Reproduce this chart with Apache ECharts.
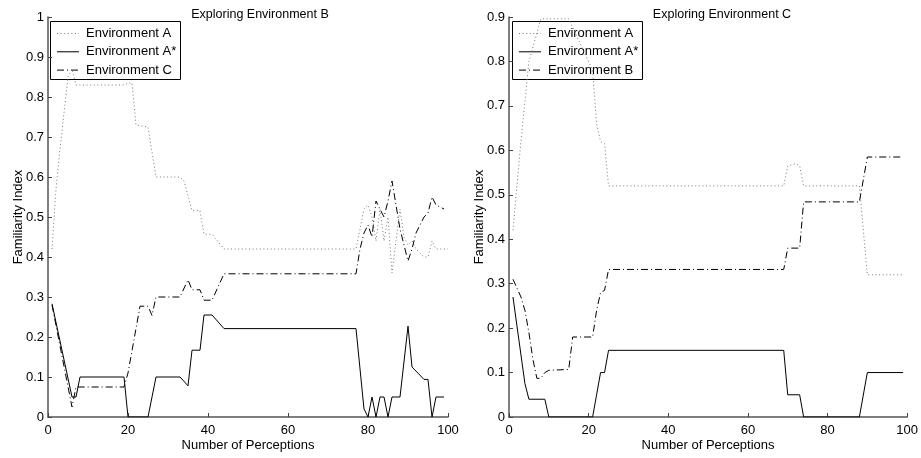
<!DOCTYPE html>
<html>
<head>
<meta charset="utf-8">
<style>
  html, body { margin: 0; padding: 0; background: #ffffff; }
  #chart { width: 921px; height: 458px; }
</style>
<script src="https://cdn.jsdelivr.net/npm/echarts@6.0.0/dist/echarts.min.js"></script>
</head>
<body>
<div id="chart"></div>
<script>
// Panel titles and series names
const panelTitles = ['Exploring Environment B', 'Exploring Environment C'];
const leftNames = ['Environment A', 'Environment A*', 'Environment C'];
const rightNames = ['Environment A', 'Environment A*', 'Environment B'];

// Familiarity index vs number of perceptions, [perception, index] vertices
// Panel 1: exploring environment B
const leftEnvA = [
  [1, 0.42], [2, 0.57], [3, 0.67], [4, 0.76], [5, 0.85], [6, 0.87], [7, 0.83],
  [19, 0.83], [20, 0.835], [21, 0.835], [22, 0.73], [25, 0.725], [27, 0.60],
  [33, 0.60], [34, 0.59], [36, 0.516], [38, 0.516], [39, 0.457], [41, 0.457],
  [44, 0.42], [77, 0.42], [78, 0.47], [79, 0.52], [80, 0.53], [81, 0.50],
  [82, 0.44], [83, 0.52], [84, 0.44], [85, 0.50], [86, 0.36], [87, 0.44],
  [88, 0.52], [89, 0.45], [90, 0.43], [91, 0.44], [92, 0.42], [93, 0.41],
  [94, 0.40], [95, 0.40], [96, 0.44], [97, 0.42], [100, 0.42]
];
const leftEnvAStar = [
  [1, 0.283], [6, 0.05], [7, 0.05], [8, 0.10], [19, 0.10], [20, 0], [25, 0],
  [27, 0.10], [33, 0.10], [35, 0.078], [36, 0.167], [38, 0.167], [39, 0.255],
  [41, 0.255], [44, 0.221], [77, 0.221], [79, 0.02], [80, 0], [81, 0.05],
  [82, 0], [83, 0.05], [84, 0.05], [85, 0], [86, 0.05], [88, 0.05],
  [90, 0.227], [91, 0.125], [94, 0.094], [95, 0.094], [96, 0], [97, 0.05],
  [99, 0.05]
];
const leftEnvC = [
  [1, 0.28], [6, 0.025], [7, 0.075], [19, 0.075], [20, 0.11], [23, 0.277],
  [25, 0.277], [26, 0.254], [27, 0.30], [33, 0.30], [35, 0.343], [36, 0.318],
  [38, 0.318], [39, 0.292], [41, 0.292], [44, 0.358], [77, 0.358], [78, 0.42],
  [79, 0.46], [80, 0.48], [81, 0.45], [82, 0.54], [83, 0.52], [84, 0.50],
  [85, 0.54], [86, 0.59], [87, 0.53], [88, 0.47], [89, 0.43], [90, 0.39],
  [91, 0.42], [92, 0.46], [93, 0.48], [94, 0.50], [95, 0.51], [96, 0.55],
  [97, 0.53], [99, 0.52]
];

// Panel 2: exploring environment C
const rightEnvA = [
  [1, 0.42], [3, 0.62], [5, 0.80], [8, 0.896], [15, 0.896], [21, 0.78],
  [22, 0.66], [23, 0.62], [24, 0.615], [25, 0.52], [69, 0.52], [70, 0.565],
  [72, 0.57], [73, 0.565], [74, 0.52], [88, 0.52], [90, 0.32], [99, 0.32]
];
const rightEnvAStar = [
  [1, 0.27], [4, 0.075], [5, 0.04], [9, 0.04], [10, 0], [21, 0], [23, 0.10],
  [24, 0.10], [25, 0.15], [69, 0.15], [70, 0.05], [73, 0.05], [74, 0],
  [88, 0], [90, 0.10], [99, 0.10]
];
const rightEnvB = [
  [1, 0.31], [2, 0.29], [3, 0.27], [4, 0.24], [5, 0.19], [6, 0.13],
  [7, 0.087], [8, 0.087], [9, 0.10], [10, 0.105], [15, 0.107], [16, 0.18],
  [21, 0.18], [22, 0.24], [23, 0.28], [24, 0.285], [25, 0.332], [69, 0.332],
  [70, 0.38], [73, 0.38], [74, 0.484], [88, 0.484], [90, 0.585], [99, 0.585]
];

// Axis ranges
const xRange = { min: 0, max: 100, step: 20 };
const leftYRange = { min: 0, max: 1, step: 0.1 };
const rightYRange = { min: 0, max: 0.9, step: 0.1 };

const FONT = "'Liberation Sans', Arial, Helvetica, sans-serif";

const dotted = { color: '#7a7a7a', width: 1, type: [1, 2.6] };
const solid = { color: '#000000', width: 1, type: 'solid' };
const dashDot = { color: '#000000', width: 1, type: [7, 3, 1, 3] };
const styles = [dotted, solid, dashDot];

function xAxisFor(gridIndex) {
  return {
    type: 'value', gridIndex,
    min: xRange.min, max: xRange.max, interval: xRange.step,
    name: 'Number of Perceptions', nameLocation: 'middle', nameGap: 22,
    nameMoveOverlap: false,
    nameTextStyle: { fontFamily: FONT, fontSize: 13, color: '#000' },
    axisLine: { show: true, onZero: false, lineStyle: { color: '#555', width: 1.5 } },
    axisTick: { show: true, inside: true, length: 4, lineStyle: { color: '#444' } },
    axisLabel: { fontFamily: FONT, fontSize: 13, color: '#000', margin: 7 },
    splitLine: { show: false }
  };
}
function yAxisFor(gridIndex, range) {
  return {
    type: 'value', gridIndex,
    min: range.min, max: range.max, interval: range.step,
    name: 'Familiarity Index', nameLocation: 'middle', nameGap: 23,
    nameMoveOverlap: false,
    nameTextStyle: { fontFamily: FONT, fontSize: 13, color: '#000' },
    axisLine: { show: true, onZero: false, lineStyle: { color: '#555', width: 1.5 } },
    axisTick: { show: true, inside: true, length: 4, lineStyle: { color: '#444' } },
    axisLabel: { fontFamily: FONT, fontSize: 13, color: '#000', margin: 4 },
    splitLine: { show: false }
  };
}
function lineSeries(name, data, idx, style) {
  return {
    type: 'line', name, data,
    xAxisIndex: idx, yAxisIndex: idx,
    symbol: 'none', showSymbol: false,
    lineStyle: style, itemStyle: { color: style.color },
    emphasis: { disabled: true }, silent: true, z: 2
  };
}

// Boxed legend drawn as graphic elements so that each key keeps its dash pattern
function legendBox(left, names) {
  const children = [{
    type: 'rect',
    shape: { x: left + 0.5, y: 21.5, width: 130, height: 58 },
    style: { fill: '#ffffff', stroke: '#000000', lineWidth: 1 }
  }];
  names.forEach((name, i) => {
    const cy = 33.5 + i * 18.3;
    const st = styles[i];
    children.push({
      type: 'line',
      shape: { x1: left + 7, y1: cy, x2: left + 29, y2: cy },
      style: { stroke: st.color, lineWidth: st.width, lineDash: Array.isArray(st.type) ? st.type : null }
    });
    children.push({
      type: 'text',
      x: left + 36, y: cy,
      style: { text: name, fill: '#000', font: '13px ' + FONT, verticalAlign: 'middle', align: 'left' }
    });
  });
  return { type: 'group', z: 100, silent: true, children };
}

const chart = echarts.init(document.getElementById('chart'), null, { renderer: 'canvas' });
chart.setOption({
  animation: false,
  backgroundColor: '#ffffff',
  title: [
    { text: panelTitles[0], left: 255, top: 3, textAlign: 'center',
      textStyle: { fontFamily: FONT, fontSize: 12.5, fontWeight: 'normal', color: '#000' } },
    { text: panelTitles[1], left: 717, top: 3, textAlign: 'center',
      textStyle: { fontFamily: FONT, fontSize: 12.5, fontWeight: 'normal', color: '#000' } }
  ],
  grid: [
    { left: 48, top: 17, width: 400, height: 400 },
    { left: 509, top: 17, width: 402, height: 400 }
  ],
  xAxis: [xAxisFor(0), xAxisFor(1)],
  yAxis: [yAxisFor(0, leftYRange), yAxisFor(1, rightYRange)],
  series: [
    lineSeries(leftNames[0], leftEnvA, 0, dotted),
    lineSeries(leftNames[1], leftEnvAStar, 0, solid),
    lineSeries(leftNames[2], leftEnvC, 0, dashDot),
    lineSeries(rightNames[0], rightEnvA, 1, dotted),
    lineSeries(rightNames[1], rightEnvAStar, 1, solid),
    lineSeries(rightNames[2], rightEnvB, 1, dashDot)
  ],
  graphic: [legendBox(50, leftNames), legendBox(512, rightNames)]
});
</script>
</body>
</html>
